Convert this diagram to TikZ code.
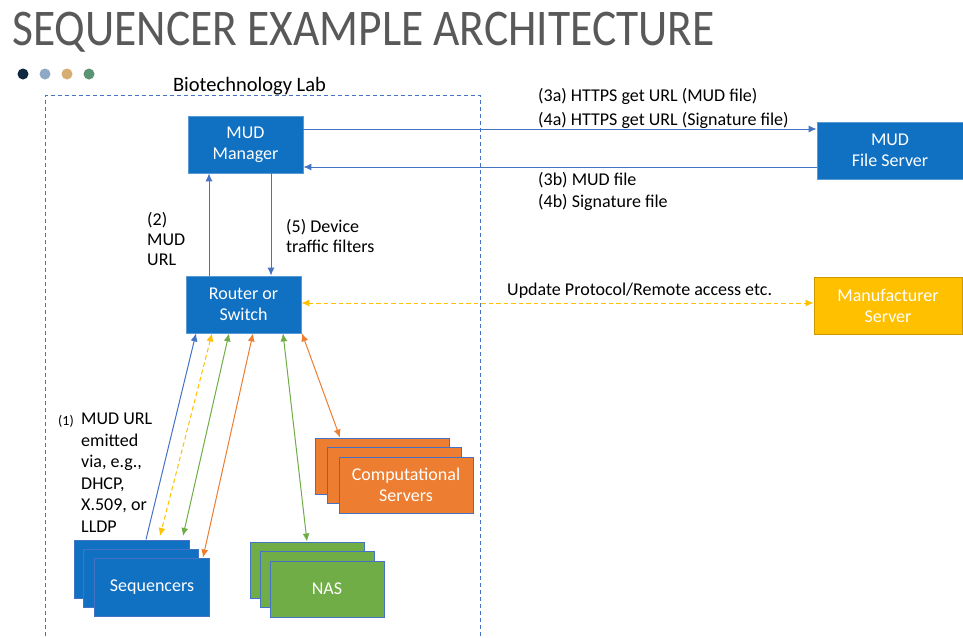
\documentclass[tikz,border=0pt]{standalone}
\usepackage{fontspec}
\setmainfont{Carlito}
\usetikzlibrary{arrows.meta,calc}
\definecolor{boxblue}{HTML}{1070C2}
\definecolor{edgeblue}{HTML}{4472C4}
\definecolor{lineblue}{HTML}{4472C4}
\definecolor{myyellow}{HTML}{FFC000}
\definecolor{mygreen}{HTML}{70AD47}
\definecolor{myorange}{HTML}{ED7D31}
\definecolor{titlegray}{HTML}{595959}
\definecolor{dotA}{HTML}{0E2841}
\definecolor{dotB}{HTML}{8EA9C5}
\definecolor{dotC}{HTML}{D6AE72}
\definecolor{dotD}{HTML}{5B9474}
\begin{document}
\begin{tikzpicture}[x=1pt,y=-1pt,
  box/.style={draw=#1!70!white, fill=#1, text=white, align=center, inner sep=0pt,
    font=\fontsize{18}{21}\selectfont, line width=0.8pt},
  stackbox/.style={draw=edgeblue, fill=#1, text=white, align=center, inner sep=0pt,
    font=\fontsize{18}{21}\selectfont, line width=1pt},
  lbl/.style={font=\fontsize{18}{21}\selectfont, text=black, inner sep=0pt, align=left},
  arr/.style={line width=1pt, draw=#1, -{Latex[length=8pt,width=7pt]}},
  darr/.style={line width=1pt, draw=#1, {Latex[length=8pt,width=7pt]}-{Latex[length=8pt,width=7pt]}},
  dsh/.style={dashed, dash pattern=on 4.5pt off 3pt},
]
\useasboundingbox (0,0) rectangle (963,637);
\fill[white] (0,0) rectangle (963,637);

% title
\node[anchor=base west, inner sep=0pt, text=titlegray, font=\fontsize{45.5}{52}\selectfont] (title) at (12,45) {\scalebox{1}[1.13]{SEQUENCER EXAMPLE ARCHITECTURE}};

% dots
\fill[dotA] (23,74) circle (5.5);
\fill[dotB] (45,74) circle (5.5);
\fill[dotC] (67,74) circle (5.5);
\fill[dotD] (89,74) circle (5.5);

% lab boundary
\draw[edgeblue, dashed, dash pattern=on 4pt off 3pt, line width=0.9pt] (45,650) -- (45,95.5) -- (480,95.5) -- (480,650);
\node[lbl, anchor=center, font=\fontsize{20.5}{24}\selectfont] (lab) at (249.5,86) {Biotechnology Lab};

% main boxes
\node[box=boxblue, minimum width=115, minimum height=57] (mgr) at (245.5,144.5) {MUD\\Manager};
\node[box=boxblue, minimum width=115, minimum height=57] (rtr) at (243.5,304.5) {Router or\\Switch};
\node[box=boxblue, minimum width=146, minimum height=57] (mfs) at (890,150.5) {MUD\\File Server};
\node[box=myyellow, draw=myyellow!80!black, minimum width=148, minimum height=57] (mfr) at (888,305.5) {Manufacturer\\Server};

% stacks
\node[stackbox=boxblue, minimum width=115, minimum height=58] (seqA) at (131.5,569) {};
\node[stackbox=boxblue, minimum width=115, minimum height=58] (seqB) at (141,578) {};
\node[stackbox=boxblue, minimum width=115, minimum height=58] (seqC) at (152,587) {Sequencers};

\node[stackbox=mygreen, minimum width=114, minimum height=56] (nasA) at (307,570) {};
\node[stackbox=mygreen, minimum width=114, minimum height=56] (nasB) at (317,579.5) {};
\node[stackbox=mygreen, minimum width=114, minimum height=56] (nasC) at (327,589) {NAS};

\node[stackbox=myorange, minimum width=134, minimum height=56] (cmpA) at (382,466) {};
\node[stackbox=myorange, minimum width=134, minimum height=56] (cmpB) at (394,475.5) {};
\node[stackbox=myorange, minimum width=134, minimum height=56] (cmpC) at (406,485) {Computational\\Servers};

% connection points
\coordinate (m1) at (mgr.north east |- 0,129);
\coordinate (m2) at (mgr.north east |- 0,167);
\coordinate (f1) at (mfs.north west |- 0,129);
\coordinate (f2) at (mfs.north west |- 0,167);
\coordinate (mb2) at (mgr.south west -| 209,0);
\coordinate (rt2) at (rtr.north west -| 209,0);
\coordinate (mb5) at (mgr.south west -| 271,0);
\coordinate (rt5) at (rtr.north west -| 271,0);
\coordinate (ry) at (rtr.north east |- 0,303);
\coordinate (my) at (mfr.north west |- 0,303);

\coordinate (rb1) at (rtr.south west -| 196,0);
\coordinate (rb2) at (rtr.south west -| 212,0);
\coordinate (rb3) at (rtr.south west -| 229,0);
\coordinate (rb4) at (rtr.south west -| 253,0);
\coordinate (rb5) at (rtr.south west -| 283,0);
\coordinate (rb6) at (rtr.south west -| 302,0);
\coordinate (s1) at (seqA.north west -| 146,0);
\coordinate (s2) at (160,536);
\coordinate (s3) at (183,536);
\coordinate (s4) at (seqC.north west -| 203,0);
\coordinate (n1) at (nasA.north west -| 307,0);
\coordinate (c1) at (cmpA.north west -| 340,0);

% top arrows
\draw[arr=lineblue] (m1) -- (f1);
\draw[arr=lineblue] (f2) -- (m2);
\draw[arr=lineblue] (rt2) -- (mb2);
\draw[arr=lineblue] (mb5) -- (rt5);
\draw[darr=myyellow, dsh] (ry) -- (my);

% bottom arrows
\draw[arr=lineblue] (s1) -- (rb1);
\draw[darr=myyellow, dsh] (rb2) -- (s2);
\draw[darr=mygreen] (rb3) -- (s3);
\draw[darr=myorange] (rb4) -- (s4);
\draw[darr=mygreen] (rb5) -- (n1);
\draw[darr=myorange] (rb6) -- (c1);

% labels
\node[lbl, anchor=west] (l3a) at (538,96) {(3a) HTTPS get URL (MUD file)};
\node[lbl, anchor=west] (l4a) at (538,120.5) {(4a) HTTPS get URL (Signature file)};
\node[lbl, anchor=west] (l3b) at (538,180) {(3b) MUD file};
\node[lbl, anchor=west] (l4b) at (538,202) {(4b) Signature file};
\node[lbl, anchor=west] (lup) at (507,291) {Update Protocol/Remote access etc.};
\node[lbl, anchor=north west, font=\fontsize{18}{20}\selectfont] (l2) at (147,212) {(2)\\MUD\\URL};
\node[lbl, anchor=north west, font=\fontsize{18}{20}\selectfont] (l5) at (286,219) {(5) Device\\traffic filters};
\node[lbl, anchor=north west, font=\fontsize{18}{21.5}\selectfont] (l1) at (81,413) {MUD URL\\emitted\\via, e.g.,\\DHCP,\\X.509, or\\LLDP};
\node[lbl, anchor=east, font=\fontsize{14}{16}\selectfont] (l1n) at (74,421) {(1)};
\end{tikzpicture}
\end{document}
